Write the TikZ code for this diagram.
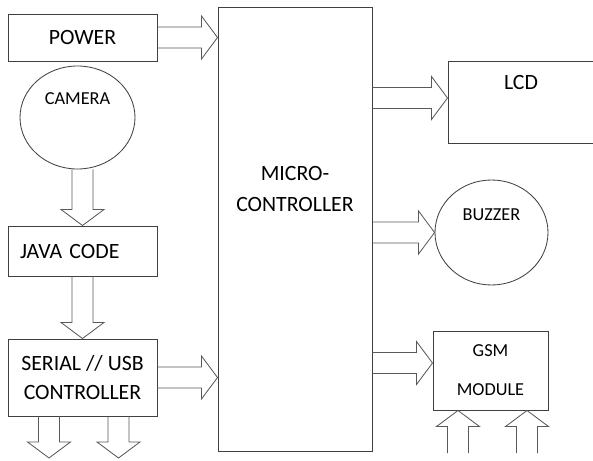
\documentclass[tikz,border=0pt]{standalone}
\usepackage{fontspec}
\setmainfont{Carlito}
\usetikzlibrary{calc, shapes.geometric}
\newcommand{\pxu}{0.025cm}
\newcommand{\bigfont}{\fontsize{15.5}{21.3}\selectfont}
\newcommand{\smallfont}{\fontsize{13}{16}\selectfont}
\tikzset{
  bx/.style   ={rectangle, draw=black!75, line width=0.7pt, inner sep=0pt,
                align=center, font=\bigfont, text=black},
  circ/.style ={ellipse, draw=black!75, line width=0.6pt, inner sep=0pt},
  fat/.style  ={draw=black!65, line width=0.6pt, line join=miter},
  lbl/.style  ={font=\smallfont, text=black}
}
% hollow block arrow from #1 to #2
\newcommand{\fatarrow}[2]{%
  \draw[fat] let \p1=(#1), \p2=(#2),
    \n1={atan2(\y2-\y1,\x2-\x1)}, \n2={veclen(\x2-\x1,\y2-\y1)} in
    [shift={(\p1)}, rotate=\n1]
    (0pt,7.5pt) -- ({\n2-11.4pt},7.5pt) -- ({\n2-11.4pt},15.3pt)
    -- ({\n2*1pt},0pt) -- ({\n2-11.4pt},-15.3pt) -- ({\n2-11.4pt},-7.5pt)
    -- (0pt,-7.5pt);}

\begin{document}
\begin{tikzpicture}[x=0.025cm, y=-0.025cm]
\useasboundingbox (0,0) rectangle (593,461);

%  Left column
\node[bx, minimum width=149*\pxu, minimum height=47*\pxu] (power)
      at (82.5,37.5) {POWER};
\node[circ, minimum width=115*\pxu, minimum height=103*\pxu,
      label={[lbl, yshift=18.5*\pxu]center:CAMERA}] (camera)
      at (77.5,117.5) {};
\node[bx, minimum height=50*\pxu, text width=125*\pxu, inner xsep=12*\pxu,
      align=left] (java) at (82.5,251) {JAVA CODE};
\node[bx, minimum width=149*\pxu, minimum height=77*\pxu] (serial)
      at (82.5,377.5) {SERIAL // USB\\CONTROLLER};

%  Controller
\node[bx, minimum width=154*\pxu, minimum height=444*\pxu,
      label={[font=\fontsize{15.5}{22.7}\selectfont, align=center,
              yshift=40*\pxu]center:MICRO-\\CONTROLLER}] (micro)
      at (295,229) {};

%  Right column
\node[bx, minimum width=152*\pxu, minimum height=82*\pxu,
      label={[font=\bigfont, xshift=-3*\pxu, yshift=19*\pxu]center:LCD}] (lcd)
      at (524,102) {};
\node[circ, minimum width=113*\pxu, minimum height=105*\pxu,
      label={[lbl, yshift=17.5*\pxu]center:BUZZER}] (buzzer)
      at (491.5,232.5) {};
\node[bx, font=\fontsize{13}{27.7}\selectfont, minimum width=115*\pxu,
      minimum height=79*\pxu] (gsm) at (490.5,370.5) {GSM\\MODULE};

%  Free ends
\coordinate (out1) at (49,458);
\coordinate (out2) at (118.5,458);
\coordinate (in1) at (458,453);
\coordinate (in2) at (527,453);
\coordinate (lcdin) at ([yshift=4*\pxu]lcd.west);
\coordinate (gsmin) at ([yshift=7.5*\pxu]gsm.west);

%  Connections
\fatarrow{power.east}{power.east -| micro.west}
\fatarrow{camera.south -| java.north}{java.north}
\fatarrow{java.south}{serial.north}
\fatarrow{serial.east}{serial.east -| micro.west}
\fatarrow{serial.south -| out1}{out1}
\fatarrow{serial.south -| out2}{out2}
\fatarrow{micro.east |- lcdin}{lcdin}
\fatarrow{micro.east |- buzzer.west}{buzzer.west}
\fatarrow{micro.east |- gsmin}{gsmin}
\fatarrow{in1}{in1 |- gsm.south}
\fatarrow{in2}{in2 |- gsm.south}
\end{tikzpicture}
\end{document}
